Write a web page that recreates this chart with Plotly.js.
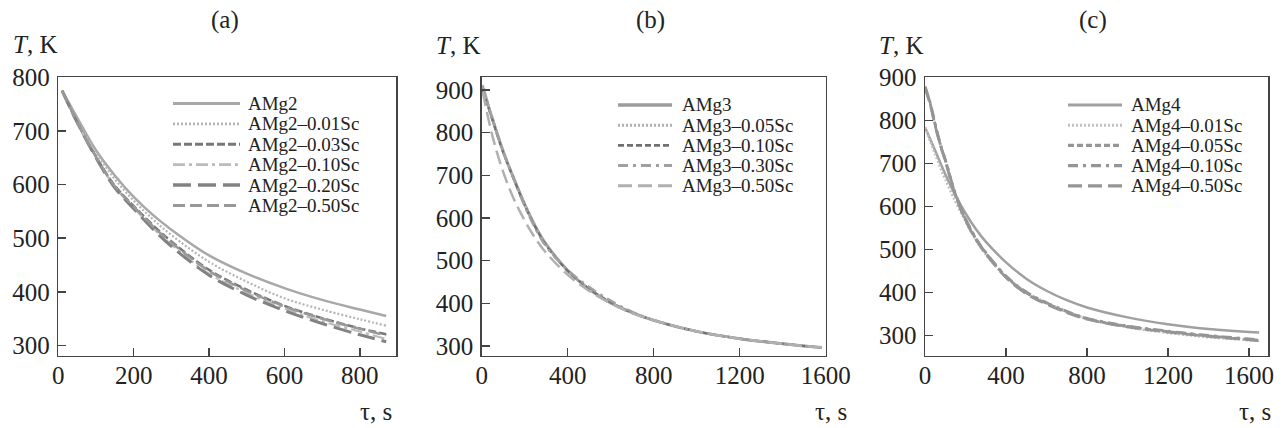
<!DOCTYPE html>
<html>
<head>
<meta charset="utf-8">
<script src="https://cdn.plot.ly/plotly-3.0.1.min.js"></script>
<style>
html,body{margin:0;padding:0;background:#fff;}
#chart{width:1283px;height:428px;}
</style>
</head>
<body>
<div id="chart"></div>
<script>
// ---------- DATA ----------
// Panel (a)
var tA = [10, 50, 100, 150, 200, 250, 300, 400, 500, 600, 700, 800, 870];
var namesA = ["AMg2", "AMg2\u20130.01Sc", "AMg2\u20130.03Sc", "AMg2\u20130.10Sc", "AMg2\u20130.20Sc", "AMg2\u20130.50Sc"];
var AMg2       = [775, 725, 664, 617, 577, 544, 516, 468, 434, 407, 385, 367, 355];
var AMg2_001Sc = [775, 720, 660, 610, 570, 536, 506, 456, 419, 388, 367, 349, 337];
var AMg2_003Sc = [775, 716, 652, 598, 560, 525, 494, 441, 404, 374, 351, 332, 321];
var AMg2_010Sc = [775, 716, 651, 596, 557, 520, 488, 434, 398, 369, 345, 326, 312];
var AMg2_020Sc = [775, 716, 650, 594, 555, 518, 485, 431, 394, 365, 341, 320, 307];
var AMg2_050Sc = [775, 716, 652, 597, 559, 523, 492, 439, 402, 373, 350, 331, 319];

// Panel (b)
var tB = [5, 50, 100, 150, 200, 250, 300, 400, 500, 600, 700, 800, 1000, 1200, 1400, 1580];
var namesB = ["AMg3", "AMg3\u20130.05Sc", "AMg3\u20130.10Sc", "AMg3\u20130.30Sc", "AMg3\u20130.50Sc"];
var AMg3       = [905, 832, 756, 692, 632, 580, 538, 477, 433, 401, 378, 360, 334, 317, 305, 296];
var AMg3_005Sc = [912, 834, 758, 693, 633, 581, 537, 476, 432, 400, 377, 360, 334, 317, 305, 296];
var AMg3_010Sc = [900, 830, 754, 690, 630, 578, 536, 476, 434, 402, 378, 360, 334, 317, 305, 296];
var AMg3_030Sc = [908, 831, 755, 690, 628, 575, 533, 478, 438, 406, 380, 361, 334, 317, 305, 296];
var AMg3_050Sc = [895, 792, 708, 644, 594, 552, 518, 467, 429, 400, 377, 360, 334, 317, 305, 296];

// Panel (c)
var tC = [0, 25, 50, 75, 100, 150, 200, 250, 300, 400, 500, 600, 700, 800, 1000, 1200, 1400, 1600, 1650];
var namesC = ["AMg4", "AMg4\u20130.01Sc", "AMg4\u20130.05Sc", "AMg4\u20130.10Sc", "AMg4\u20130.50Sc"];
var AMg4       = [784, 757, 730, 702, 675, 626, 584, 548, 518, 470, 432, 404, 382, 365, 342, 326, 315, 308, 307];
var AMg4_001Sc = [784, 752, 721, 691, 663, 611, 565, 523, 488, 437, 401, 376, 356, 339, 319, 306, 296, 289, 287];
var AMg4_005Sc = [878, 840, 790, 745, 708, 628, 570, 526, 492, 437, 399, 375, 355, 339, 321, 309, 299, 291, 289];
var AMg4_010Sc = [878, 842, 792, 747, 709, 630, 572, 527, 493, 438, 401, 376, 356, 340, 322, 310, 300, 292, 290];
var AMg4_050Sc = [876, 838, 788, 743, 706, 626, 568, 524, 490, 435, 397, 373, 353, 338, 320, 308, 298, 290, 288];

// ---------- STYLES ----------
var stylesA = [
  {color: "#a8a8a8", width: 2.5, dash: "solid"},
  {color: "#b4b4b4", width: 2.2, dash: "2px,2px"},
  {color: "#777777", width: 2.5, dash: "8px,3px"},
  {color: "#bbbbbb", width: 2.2, dash: "12px,4px,3px,4px"},
  {color: "#828282", width: 3,   dash: "18px,7px"},
  {color: "#999999", width: 2.5, dash: "12px,5px"}
];
var stylesB = [
  {color: "#9c9c9c", width: 3,   dash: "solid"},
  {color: "#b0b0b0", width: 2.5, dash: "2px,2px"},
  {color: "#707070", width: 2.2, dash: "6px,3px"},
  {color: "#a0a0a0", width: 2.5, dash: "10px,5px,3px,5px"},
  {color: "#b0b0b0", width: 2.5, dash: "14px,6px"}
];
var stylesC = [
  {color: "#a0a0a0", width: 2.5, dash: "solid"},
  {color: "#c0c0c0", width: 2.5, dash: "2px,2px"},
  {color: "#959595", width: 2.8, dash: "6px,3px"},
  {color: "#959595", width: 2.8, dash: "10px,5px,3px,5px"},
  {color: "#959595", width: 2.8, dash: "14px,6px"}
];

var W = 1283, H = 428;
function px(x){ return x / W; }
function py(y){ return 1 - y / H; }

var serif = "Liberation Serif";

var traces = [];
function addTraces(t, series, names, styles, xa, ya){
  for (var i = 0; i < series.length; i++){
    traces.push({
      type: "scatter", mode: "lines", x: t, y: series[i], name: names[i],
      xaxis: xa, yaxis: ya, showlegend: false,
      line: {color: styles[i].color, width: styles[i].width, dash: styles[i].dash, shape: "spline", smoothing: 1}
    });
  }
}
addTraces(tA, [AMg2, AMg2_001Sc, AMg2_003Sc, AMg2_010Sc, AMg2_020Sc, AMg2_050Sc], namesA, stylesA, "x", "y");
addTraces(tB, [AMg3, AMg3_005Sc, AMg3_010Sc, AMg3_030Sc, AMg3_050Sc], namesB, stylesB, "x2", "y2");
addTraces(tC, [AMg4, AMg4_001Sc, AMg4_005Sc, AMg4_010Sc, AMg4_050Sc], namesC, stylesC, "x3", "y3");

var shapes = [];
var annotations = [];

// manual legends
function addLegend(names, styles, lineX0, lineX1, textX, rowY0, rowStep){
  for (var i = 0; i < names.length; i++){
    var y = rowY0 + i * rowStep;
    shapes.push({type: "line", xref: "paper", yref: "paper",
      x0: px(lineX0), x1: px(lineX1), y0: py(y), y1: py(y),
      line: {color: styles[i].color, width: styles[i].width + 0.5, dash: styles[i].dash}});
    annotations.push({xref: "paper", yref: "paper", x: px(textX), y: py(y),
      xanchor: "left", yanchor: "middle", showarrow: false, text: names[i],
      font: {family: serif, size: 19, color: "#222"}});
  }
}
addLegend(namesA, stylesA, 173, 240, 246, 103.5, 20.4);
addLegend(namesB, stylesB, 618, 672, 680, 105, 20.2);
addLegend(namesC, stylesC, 1068, 1122, 1129, 105, 20.2);

// panel titles and axis labels
var labels = [
  {t: "(a)", x: 225, y: 20, anchor: "center"},
  {t: "(b)", x: 650, y: 20, anchor: "center"},
  {t: "(c)", x: 1093, y: 20, anchor: "center"},
  {t: "<i>T</i>, K", x: 11, y: 44, anchor: "left"},
  {t: "<i>T</i>, K", x: 434, y: 45, anchor: "left"},
  {t: "<i>T</i>, K", x: 877, y: 45, anchor: "left"},
  {t: "\u03c4, s", x: 394, y: 411, anchor: "right"},
  {t: "\u03c4, s", x: 849, y: 411, anchor: "right"},
  {t: "\u03c4, s", x: 1273, y: 411, anchor: "right"}
];
labels.forEach(function(l){
  annotations.push({xref: "paper", yref: "paper", x: px(l.x), y: py(l.y),
    xanchor: l.anchor, yanchor: "middle", showarrow: false, text: l.t,
    font: {family: serif, size: 25, color: "#222"}});
});

function axis(domain, range, tickvals, anchor, standoff){
  return {domain: domain, range: range, tickvals: tickvals, anchor: anchor,
    showline: true, mirror: true, linecolor: "#444", linewidth: 1.5,
    ticks: "inside", ticklen: 8, tickwidth: 1.5, tickcolor: "#444",
    showgrid: false, zeroline: false, ticklabelstandoff: standoff,
    tickfont: {family: serif, size: 25, color: "#222"}};
}
var yDom = [py(355.7), py(77.3)];

var layout = {
  width: W, height: H,
  margin: {l: 0, r: 0, t: 0, b: 0, pad: 0},
  paper_bgcolor: "#fff", plot_bgcolor: "#fff",
  showlegend: false,
  xaxis:  axis([px(58.3), px(396)], [0, 896], [0, 200, 400, 600, 800], "y", -3),
  yaxis:  axis(yDom, [281, 800], [300, 400, 500, 600, 700, 800], "x", 2),
  xaxis2: axis([px(481.7), px(825.7)], [0, 1600], [0, 400, 800, 1200, 1600], "y2", -3),
  yaxis2: axis(yDom, [277, 930], [300, 400, 500, 600, 700, 800, 900], "x2", 2),
  xaxis3: axis([px(925), px(1268.3)], [0, 1695], [0, 400, 800, 1200, 1600], "y3", -3),
  yaxis3: axis(yDom, [253, 900], [300, 400, 500, 600, 700, 800, 900], "x3", 2),
  shapes: shapes,
  annotations: annotations
};

Plotly.newPlot("chart", traces, layout, {staticPlot: true, displayModeBar: false});
</script>
</body>
</html>
